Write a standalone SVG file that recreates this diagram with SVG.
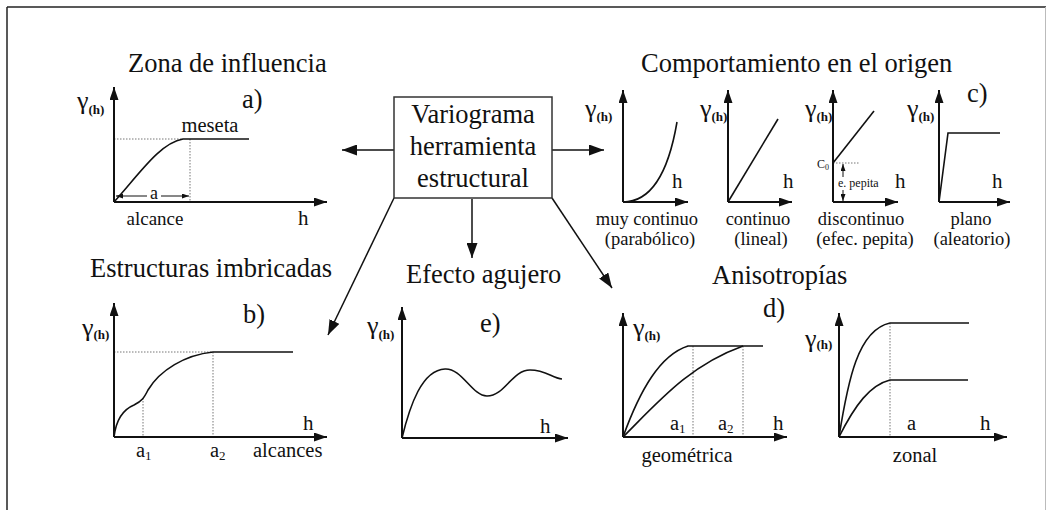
<svg xmlns="http://www.w3.org/2000/svg" width="1048" height="510" viewBox="0 0 1048 510">
<style>
text{font-family:"Liberation Serif","Times New Roman",serif;fill:#111}
.t{font-size:26.5px}
.lbl{font-size:18.5px}
.lb2{font-size:20.5px}
.h{font-size:21px}
.g{font-size:26px}
.sub{font-size:13px;font-weight:bold}
.ax{stroke:#111;stroke-width:2;fill:none;marker-end:url(#axh)}
.cv{stroke:#111;stroke-width:1.6;fill:none}
.dot{stroke:#777;stroke-width:1;stroke-dasharray:1.5,1.5;fill:none}
.con{stroke:#111;stroke-width:1.5;fill:none;marker-end:url(#ah)}
.sm{stroke:#111;stroke-width:1;fill:none;marker-end:url(#sah)}
</style>
<defs>
<marker id="ah" markerUnits="userSpaceOnUse" markerWidth="15" markerHeight="11" refX="15" refY="5.5" orient="auto"><path d="M0,0 L15,5.5 L0,11 z" fill="#111"/></marker>
<marker id="axh" markerUnits="userSpaceOnUse" markerWidth="13" markerHeight="9" refX="13" refY="4.5" orient="auto"><path d="M0,0 L13,4.5 L0,9 z" fill="#111"/></marker>
<marker id="sah" markerUnits="userSpaceOnUse" markerWidth="7" markerHeight="5" refX="7" refY="2.5" orient="auto"><path d="M0,0 L7,2.5 L0,5 z" fill="#111"/></marker>
</defs>
<rect width="1048" height="510" fill="#fff"/>
<line x1="7" y1="7" x2="1046" y2="7" stroke="#222" stroke-width="1.5"/>
<line x1="7" y1="7" x2="7" y2="510" stroke="#222" stroke-width="1.5"/>
<line x1="1045.5" y1="7" x2="1045.5" y2="510" stroke="#bbb" stroke-width="1"/>

<g id="connectors">
<line class="con" x1="394" y1="150" x2="342" y2="150"/>
<line class="con" x1="552" y1="150" x2="604" y2="150"/>
<line class="con" x1="472" y1="199" x2="472" y2="258"/>
<line class="con" x1="394" y1="198" x2="328" y2="335"/>
<line class="con" x1="552" y1="198" x2="612" y2="288"/>
</g>

<g id="variograma">
<rect x="394" y="97" width="158" height="101" fill="#fff" stroke="#333" stroke-width="1.5"/>
<text class="t" x="473" y="123" text-anchor="middle">Variograma</text>
<text class="t" x="473" y="155" text-anchor="middle">herramienta</text>
<text class="t" x="473" y="187" text-anchor="middle">estructural</text>
</g>

<g id="zona-influencia">
<text class="t" x="128" y="72">Zona de influencia</text>
<text class="t" x="242" y="108">a)</text>
<text class="g" x="77" y="109">γ<tspan class="sub" dy="5">(h)</tspan></text>
<line class="dot" x1="114" y1="139" x2="183" y2="139"/>
<line class="dot" x1="190" y1="139" x2="190" y2="202"/>
<path class="cv" d="M114,202 C140,173 160,143 183,139 L249,139"/>
<line class="ax" x1="114" y1="202" x2="114" y2="87"/>
<line class="ax" x1="114" y1="202" x2="327" y2="202"/>
<line class="sm" x1="147" y1="196" x2="116" y2="196"/>
<line class="sm" x1="161" y1="196" x2="189" y2="196"/>
<text x="154" y="199" text-anchor="middle" style="font-size:18px">a</text>
<text x="210" y="132" text-anchor="middle" style="font-size:20.5px">meseta</text>
<text x="155" y="225" text-anchor="middle" style="font-size:19px">alcance</text>
<text class="h" x="298" y="225">h</text>
</g>

<g id="comportamiento">
<text class="t" x="641" y="72">Comportamiento en el origen</text>
<text class="t" x="967" y="102">c)</text>
<!-- 1 -->
<text class="g" x="585" y="117">γ<tspan class="sub" dy="4">(h)</tspan></text>
<path class="cv" d="M623,202 C650,202 668,175 677,122"/>
<line class="ax" x1="623" y1="202" x2="623" y2="90"/>
<line class="ax" x1="623" y1="202" x2="688" y2="202"/>
<text class="h" x="672" y="188">h</text>
<text class="lbl" x="647" y="225" text-anchor="middle">muy continuo</text>
<text class="lbl" x="650" y="245" text-anchor="middle">(parabólico)</text>
<!-- 2 -->
<text class="g" x="700" y="117">γ<tspan class="sub" dy="4">(h)</tspan></text>
<line class="cv" x1="728" y1="202" x2="778" y2="119"/>
<line class="ax" x1="728" y1="202" x2="728" y2="90"/>
<line class="ax" x1="728" y1="202" x2="792" y2="202"/>
<text class="h" x="783" y="188">h</text>
<text class="lbl" x="758" y="225" text-anchor="middle">continuo</text>
<text class="lbl" x="761" y="245" text-anchor="middle">(lineal)</text>
<!-- 3 -->
<text class="g" x="805" y="117">γ<tspan class="sub" dy="4">(h)</tspan></text>
<line class="dot" x1="833" y1="163" x2="860" y2="163"/>
<line class="cv" x1="833" y1="163" x2="874" y2="111"/>
<line class="ax" x1="833" y1="202" x2="833" y2="90"/>
<line class="ax" x1="833" y1="202" x2="898" y2="202"/>
<text x="817" y="168" style="font-size:12px">C<tspan dy="2" style="font-size:8px">0</tspan></text>
<line class="sm" x1="843" y1="177" x2="843" y2="164"/>
<line class="sm" x1="843" y1="190" x2="843" y2="201"/>
<text x="838" y="187" style="font-size:12px">e. pepita</text>
<text class="h" x="895" y="188">h</text>
<text class="lbl" x="861" y="225" text-anchor="middle">discontinuo</text>
<text class="lbl" x="865" y="245" text-anchor="middle">(efec. pepita)</text>
<!-- 4 -->
<text class="g" x="907" y="117">γ<tspan class="sub" dy="4">(h)</tspan></text>
<path class="cv" d="M939,202 L948,133 L1000,133"/>
<line class="ax" x1="939" y1="202" x2="939" y2="90"/>
<line class="ax" x1="939" y1="202" x2="1010" y2="202"/>
<text class="h" x="992" y="188">h</text>
<text class="lbl" x="971" y="225" text-anchor="middle">plano</text>
<text class="lbl" x="972" y="245" text-anchor="middle">(aleatorio)</text>
</g>

<g id="estructuras">
<text class="t" x="90" y="277">Estructuras imbricadas</text>
<text class="t" x="243" y="323">b)</text>
<text class="g" x="82" y="336">γ<tspan class="sub" dy="3">(h)</tspan></text>
<line class="dot" x1="114" y1="352" x2="213" y2="352"/>
<line class="dot" x1="213" y1="352" x2="213" y2="437"/>
<line class="dot" x1="143" y1="398" x2="143" y2="437"/>
<path class="cv" d="M114,437 C116,420 122,410 134,405 C142,401 144,398 148,390 C160,370 185,355 213,352 L293,352"/>
<line class="ax" x1="114" y1="437" x2="114" y2="303"/>
<line class="ax" x1="114" y1="437" x2="327" y2="437"/>
<text class="h" x="303" y="430">h</text>
<text class="lb2" x="136" y="457">a<tspan dy="3" style="font-size:13px">1</tspan></text>
<text class="lb2" x="210" y="457">a<tspan dy="3" style="font-size:13px">2</tspan></text>
<text class="lb2" x="253" y="457">alcances</text>
</g>

<g id="efecto-agujero">
<text class="t" x="406" y="283">Efecto agujero</text>
<text class="t" x="480" y="332">e)</text>
<text class="g" x="367" y="334">γ<tspan class="sub" dy="5">(h)</tspan></text>
<path class="cv" d="M402,438 C410,405 422,370 445,369 C462,368 472,396 487,396 C505,396 512,370 530,370 C546,370 552,378 562,379"/>
<line class="ax" x1="402" y1="438" x2="402" y2="307"/>
<line class="ax" x1="402" y1="438" x2="568" y2="438"/>
<text class="h" x="540" y="433">h</text>
</g>

<g id="anisotropias">
<text class="t" x="712" y="284">Anisotropías</text>
<text class="t" x="763" y="317">d)</text>
<!-- geometrica -->
<text class="g" x="633" y="336">γ<tspan class="sub" dy="4">(h)</tspan></text>
<line class="dot" x1="693" y1="346" x2="693" y2="437"/>
<line class="dot" x1="743" y1="346" x2="743" y2="437"/>
<path class="cv" d="M623,437 C640,390 660,355 688,346 L763,346"/>
<path class="cv" d="M623,437 C660,400 690,365 743,346"/>
<line class="ax" x1="623" y1="437" x2="623" y2="313"/>
<line class="ax" x1="623" y1="437" x2="787" y2="437"/>
<text class="lb2" x="670" y="430">a<tspan dy="3" style="font-size:13px">1</tspan></text>
<text class="lb2" x="718" y="430">a<tspan dy="3" style="font-size:13px">2</tspan></text>
<text class="h" x="773" y="430">h</text>
<text class="lb2" x="687" y="462" text-anchor="middle">geométrica</text>
<!-- zonal -->
<text class="g" x="805" y="347">γ<tspan class="sub" dy="2">(h)</tspan></text>
<line class="dot" x1="890" y1="323" x2="890" y2="437"/>
<path class="cv" d="M839,437 C848,380 858,330 890,323 L969,323"/>
<path class="cv" d="M839,437 C855,405 870,385 890,380 L968,380"/>
<line class="ax" x1="839" y1="437" x2="839" y2="313"/>
<line class="ax" x1="839" y1="437" x2="1007" y2="437"/>
<text class="lb2" x="907" y="430">a</text>
<text class="h" x="980" y="430">h</text>
<text class="lb2" x="915" y="462" text-anchor="middle">zonal</text>
</g>
</svg>
